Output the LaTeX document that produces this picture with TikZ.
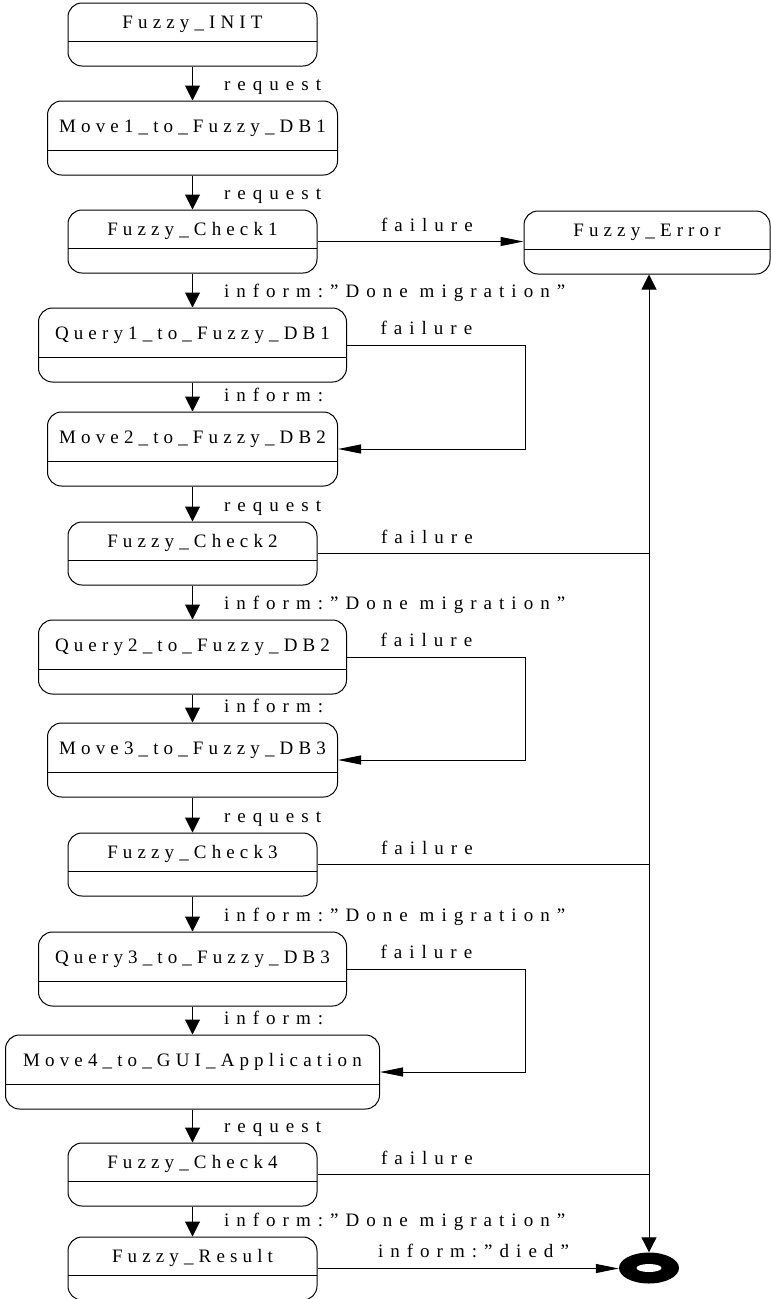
\documentclass[tikz,border=0pt]{standalone}
\usepackage{fontspec}
\newfontfamily\statefont{Liberation Serif}[LetterSpace=27]
\newfontfamily\labelfont{Liberation Serif}[LetterSpace=37]
\usetikzlibrary{arrows.meta}
\usetikzlibrary{shapes.geometric}

\tikzset{
  state/.style={draw, line width=1pt, rounded corners=14pt, inner sep=0pt, anchor=base,
    font=\statefont\fontsize{19}{21}\selectfont,
    path picture={\draw[line width=1pt] ([yshift=25pt]path picture bounding box.south west)
      -- ([yshift=25pt]path picture bounding box.south east);}},
  smallstate/.style={state, minimum width=249pt, text height=25pt, text depth=38pt},
  bigstate/.style={state, text height=31pt, text depth=43pt},
  endstate/.style={ellipse, fill=black, minimum width=60pt, minimum height=31pt, inner sep=0pt,
    path picture={\fill[white] (path picture bounding box.center) ellipse [x radius=12.5pt, y radius=4pt];}},
  lbl/.style={font=\labelfont\fontsize{19}{21}\selectfont, inner sep=0pt, anchor=base west},
  conn/.style={line width=1pt},
  varrow/.style={conn, -{Triangle[length=15pt,width=15pt]}},
  harrow/.style={conn, -{Triangle[length=23pt,width=9pt]}}
}

\begin{document}
\begin{tikzpicture}[x=1pt, y=-1pt]
  \useasboundingbox (0,0) rectangle (771,1299);

  \node[smallstate] (init) at (192.5,28) {Fuzzy\_INIT};
  \node[bigstate, minimum width=290pt] (move1) at (192.5,132) {Move1\_to\_Fuzzy\_DB1};
  \node[smallstate] (check1) at (192.5,235) {Fuzzy\_Check1};
  \node[bigstate, minimum width=308pt] (query1) at (192.5,339) {Query1\_to\_Fuzzy\_DB1};
  \node[bigstate, minimum width=290pt] (move2) at (192.5,443) {Move2\_to\_Fuzzy\_DB2};
  \node[smallstate] (check2) at (192.5,547) {Fuzzy\_Check2};
  \node[bigstate, minimum width=308pt] (query2) at (192.5,651) {Query2\_to\_Fuzzy\_DB2};
  \node[bigstate, minimum width=290pt] (move3) at (192.5,754) {Move3\_to\_Fuzzy\_DB3};
  \node[smallstate] (check3) at (192.5,858) {Fuzzy\_Check3};
  \node[bigstate, minimum width=308pt] (query3) at (192.5,963) {Query3\_to\_Fuzzy\_DB3};
  \node[bigstate, minimum width=374pt] (move4) at (192.5,1066) {Move4\_to\_GUI\_Application};
  \node[smallstate] (check4) at (192.5,1168) {Fuzzy\_Check4};
  \node[smallstate] (result) at (192.5,1262) {Fuzzy\_Result};
  \node[smallstate, minimum width=246pt] (error) at (647,236) {Fuzzy\_Error};
  \node[endstate] (final) at (649,1268) {};

  \draw[varrow] (init) -- (move1) node[lbl, at end, xshift=31pt, yshift=10pt] (t1) {request};
  \draw[varrow] (move1) -- (check1) node[lbl, at end, xshift=31pt, yshift=10pt] (t2) {request};
  \draw[varrow] (check1) -- (query1) node[lbl, at end, xshift=31pt, yshift=10pt] (t3) {inform:”Done migration”};
  \draw[varrow] (query1) -- (move2) node[lbl, at end, xshift=31pt, yshift=10pt] (t4) {inform:};
  \draw[varrow] (move2) -- (check2) node[lbl, at end, xshift=31pt, yshift=10pt] (t5) {request};
  \draw[varrow] (check2) -- (query2) node[lbl, at end, xshift=31pt, yshift=10pt] (t6) {inform:”Done migration”};
  \draw[varrow] (query2) -- (move3) node[lbl, at end, xshift=31pt, yshift=10pt] (t7) {inform:};
  \draw[varrow] (move3) -- (check3) node[lbl, at end, xshift=31pt, yshift=10pt] (t8) {request};
  \draw[varrow] (check3) -- (query3) node[lbl, at end, xshift=31pt, yshift=10pt] (t9) {inform:”Done migration”};
  \draw[varrow] (query3) -- (move4) node[lbl, at end, xshift=31pt, yshift=10pt] (t10) {inform:};
  \draw[varrow] (move4) -- (check4) node[lbl, at end, xshift=31pt, yshift=10pt] (t11) {request};
  \draw[varrow] (check4) -- (result) node[lbl, at end, xshift=31pt, yshift=10pt] (t12) {inform:”Done migration”};

  \draw[harrow] (check1.east) -- (check1.east -| error.west)
    node[lbl, at start, xshift=63pt, yshift=10pt] (f1) {failure};
  \draw[harrow] (query1.east) -- node[lbl, at start, xshift=33pt, yshift=11pt] (f2) {failure} ++(178,0) |- (move2.east);
  \draw[conn] (check2.east) -- (check2.east -| final.north)
    node[lbl, at start, xshift=63pt, yshift=10pt] (f3) {failure};
  \draw[harrow] (query2.east) -- node[lbl, at start, xshift=33pt, yshift=11pt] (f4) {failure} ++(178,0) |- (move3.east);
  \draw[conn] (check3.east) -- (check3.east -| final.north)
    node[lbl, at start, xshift=63pt, yshift=10pt] (f5) {failure};
  \draw[harrow] (query3.east) -- node[lbl, at start, xshift=33pt, yshift=11pt] (f6) {failure} ++(178,0) |- (move4.east);
  \draw[conn] (check4.east) -- (check4.east -| final.north)
    node[lbl, at start, xshift=63pt, yshift=10pt] (f7) {failure};

  \draw[conn, {Triangle[length=15pt,width=15pt]}-{Triangle[length=15pt,width=15pt]}]
    (final.north) -- (final.north |- error.south);
  \draw[harrow] (result.east) -- (result.east -| final.west)
    node[lbl, at start, xshift=60pt, yshift=11pt] (d1) {inform:”died”};
\end{tikzpicture}
\end{document}
